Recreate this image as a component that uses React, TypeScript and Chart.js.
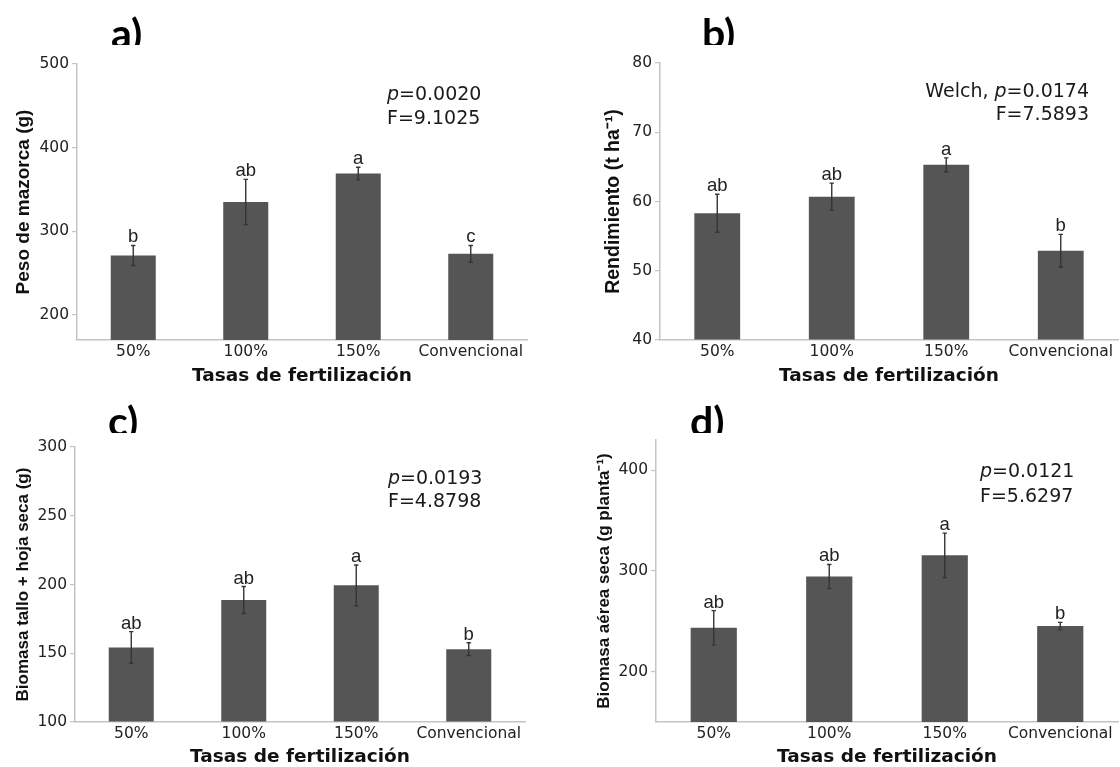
import React, { useEffect, useRef } from 'react';
import { Chart, registerables } from 'chart.js';

Chart.register(...registerables);

// ---------- data ----------
const categories = ['50%', '100%', '150%', 'Convencional'];

const pesoMazorca = [271, 335, 369, 273];
const pesoMazorcaErr = [12, 27, 7.5, 10];
const pesoMazorcaLetters = ['b', 'ab', 'a', 'c'];
const pesoMazorcaTicks = [200, 300, 400, 500];

const rendimiento = [58.3, 60.7, 65.3, 52.9];
const rendimientoErr = [2.75, 1.95, 1.0, 2.35];
const rendimientoLetters = ['ab', 'ab', 'a', 'b'];
const rendimientoTicks = [40, 50, 60, 70, 80];

const biomasaTallo = [154.2, 188.7, 199.4, 153.0];
const biomasaTalloErr = [11.5, 9.8, 14.8, 4.6];
const biomasaTalloLetters = ['ab', 'ab', 'a', 'b'];
const biomasaTalloTicks = [100, 150, 200, 250, 300];

const biomasaAerea = [243.6, 294.4, 315.5, 245.2];
const biomasaAereaErr = [17, 12, 22, 3.7];
const biomasaAereaLetters = ['ab', 'ab', 'a', 'b'];
const biomasaAereaTicks = [200, 300, 400];

const xTitle = 'Tasas de fertilización';

// ---------- styles ----------
const BAR_COLOR = '#555555';
const AXIS_COLOR = '#c4c4c4';
const TEXT_COLOR = '#222222';
const TICK_FONT = { family: '"DejaVu Sans", sans-serif', size: 15.5 };
const STAT_FONT = '19px "DejaVu Sans", sans-serif';
const STAT_FONT_IT = 'italic 19px "DejaVu Sans", sans-serif';

type Seg = [string, boolean];
type PanelCfg = {
  label: string;
  labelLeft: number;
  labelCut: number;
  box: { left: number; top: number; width: number; height: number };
  pad: { left: number; right: number; top: number; bottom: number };
  yWidth: number;
  xHeight: number;
  yMin: number;
  yMax: number;
  ticks: number[];
  values: number[];
  errors: number[];
  letters: string[];
  yTitle: string;
  yTitleSize: number;
  stats: Seg[][];
  statsAlign: 'left' | 'right';
  statsX: number;
  statsY: number[];
};

const panels: PanelCfg[] = [
  {
    label: 'a)', labelLeft: 111, labelCut: 45,
    box: { left: 0, top: 0, width: 540, height: 390 },
    pad: { left: 12.6, right: 13, top: 64, bottom: 4.75 },
    yWidth: 64.4, xHeight: 45.25,
    yMin: 170, yMax: 500, ticks: pesoMazorcaTicks,
    values: pesoMazorca, errors: pesoMazorcaErr, letters: pesoMazorcaLetters,
    yTitle: 'Peso de mazorca (g)', yTitleSize: 19,
    stats: [[['p', true], ['=0.0020', false]], [['F=9.1025', false]]],
    statsAlign: 'left', statsX: 387, statsY: [95, 119],
  },
  {
    label: 'b)', labelLeft: 702, labelCut: 45,
    box: { left: 560, top: 0, width: 560, height: 390 },
    pad: { left: 42.3, right: 2, top: 63, bottom: 4.75 },
    yWidth: 57.7, xHeight: 45.25,
    yMin: 40, yMax: 80, ticks: rendimientoTicks,
    values: rendimiento, errors: rendimientoErr, letters: rendimientoLetters,
    yTitle: 'Rendimiento (t ha\u207B\u00B9)', yTitleSize: 19.5,
    stats: [[['Welch, ', false], ['p', true], ['=0.0174', false]], [['F=7.5893', false]]],
    statsAlign: 'right', statsX: 529, statsY: [92, 115],
  },
  {
    label: 'c)', labelLeft: 108, labelCut: 433,
    box: { left: 0, top: 380, width: 540, height: 387 },
    pad: { left: 12.8, right: 15, top: 67, bottom: 0.75 },
    yWidth: 62.2, xHeight: 44.25,
    yMin: 100, yMax: 300, ticks: biomasaTalloTicks,
    values: biomasaTallo, errors: biomasaTalloErr, letters: biomasaTalloLetters,
    yTitle: 'Biomasa tallo + hoja seca (g)', yTitleSize: 17,
    stats: [[['p', true], ['=0.0193', false]], [['F=4.8798', false]]],
    statsAlign: 'left', statsX: 388, statsY: [99, 122],
  },
  {
    label: 'd)', labelLeft: 690, labelCut: 433,
    box: { left: 560, top: 380, width: 560, height: 387 },
    pad: { left: 33.8, right: 2, top: 60, bottom: 0.75 },
    yWidth: 62.2, xHeight: 44.25,
    yMin: 150, yMax: 430, ticks: biomasaAereaTicks,
    values: biomasaAerea, errors: biomasaAereaErr, letters: biomasaAereaLetters,
    yTitle: 'Biomasa aérea seca (g planta\u207B\u00B9)', yTitleSize: 17,
    stats: [[['p', true], ['=0.0121', false]], [['F=5.6297', false]]],
    statsAlign: 'left', statsX: 420, statsY: [92, 117],
  },
];

function Panel({ cfg }: { cfg: PanelCfg }) {
  const ref = useRef<HTMLCanvasElement | null>(null);

  useEffect(() => {
    if (!ref.current) return;
    const overlay = {
      id: 'overlay',
      afterDatasetsDraw(chart: any) {
        const ctx = chart.ctx;
        const y = chart.scales.y;
        const meta = chart.getDatasetMeta(0);
        ctx.save();
        meta.data.forEach((bar: any, i: number) => {
          const x = bar.x;
          const top = y.getPixelForValue(cfg.values[i] + cfg.errors[i]);
          const bot = y.getPixelForValue(cfg.values[i] - cfg.errors[i]);
          ctx.strokeStyle = '#353535';
          ctx.lineWidth = 1.4;
          ctx.beginPath();
          ctx.moveTo(x, top);
          ctx.lineTo(x, bot);
          ctx.moveTo(x - 2.2, top);
          ctx.lineTo(x + 2.2, top);
          ctx.moveTo(x - 2.2, bot);
          ctx.lineTo(x + 2.2, bot);
          ctx.stroke();
          ctx.fillStyle = TEXT_COLOR;
          ctx.font = '18.5px "Liberation Sans", Arial, sans-serif';
          ctx.textAlign = 'center';
          ctx.textBaseline = 'alphabetic';
          ctx.fillText(cfg.letters[i], x, top - 3);
        });
        // statistics text
        ctx.fillStyle = '#1a1a1a';
        ctx.textBaseline = 'middle';
        ctx.textAlign = 'left';
        cfg.stats.forEach((line, li) => {
          const widths = line.map(([t, it]) => {
            ctx.font = it ? STAT_FONT_IT : STAT_FONT;
            return ctx.measureText(t).width;
          });
          const total = widths.reduce((a, b) => a + b, 0);
          let x = cfg.statsAlign === 'right' ? cfg.statsX - total : cfg.statsX;
          line.forEach(([t, it], si) => {
            ctx.font = it ? STAT_FONT_IT : STAT_FONT;
            ctx.fillText(t, x, cfg.statsY[li]);
            x += widths[si];
          });
        });
        ctx.restore();
      },
    };

    const chart = new Chart(ref.current, {
      type: 'bar',
      data: {
        labels: categories,
        datasets: [
          {
            data: cfg.values,
            backgroundColor: BAR_COLOR,
            borderWidth: 0,
            base: cfg.yMin,
            barPercentage: 0.4,
            categoryPercentage: 1,
          } as any,
        ],
      },
      options: {
        responsive: false,
        animation: false,
        events: [],
        layout: { padding: cfg.pad },
        plugins: { legend: { display: false }, tooltip: { enabled: false } },
        scales: {
          x: {
            grid: { display: false, drawTicks: false },
            border: { display: true, color: AXIS_COLOR, width: 1.5 },
            ticks: { padding: 3, color: TEXT_COLOR, font: TICK_FONT, maxRotation: 0, autoSkip: false },
            title: {
              display: true,
              text: xTitle,
              color: '#111111',
              padding: 0,
              font: { family: '"DejaVu Sans", sans-serif', size: 18.5, weight: 'bold', lineHeight: 1 },
            },
            afterFit: (s: any) => { s.height = cfg.xHeight; },
          },
          y: {
            min: cfg.yMin,
            max: cfg.yMax,
            grid: { display: true, drawOnChartArea: false, drawTicks: true, tickLength: 5, color: AXIS_COLOR, lineWidth: 1.2 },
            border: { display: true, color: AXIS_COLOR, width: 1.5 },
            ticks: { padding: 3, color: TEXT_COLOR, font: TICK_FONT },
            afterBuildTicks: (s: any) => { s.ticks = cfg.ticks.map((v) => ({ value: v })); },
            title: {
              display: true,
              text: cfg.yTitle,
              color: '#111111',
              padding: 0,
              font: { family: '"Liberation Sans", Arial, sans-serif', size: cfg.yTitleSize, weight: 'bold' },
            },
            afterFit: (s: any) => { s.width = cfg.yWidth; },
          },
        },
      } as any,
      plugins: [overlay],
    });
    return () => chart.destroy();
  }, [cfg]);

  return (
    <>
      <canvas
        ref={ref}
        width={cfg.box.width}
        height={cfg.box.height}
        style={{ position: 'absolute', left: cfg.box.left, top: cfg.box.top, width: cfg.box.width, height: cfg.box.height }}
      />
      <div
        style={{
          position: 'absolute',
          left: cfg.labelLeft,
          top: cfg.labelCut - 45,
          width: 70,
          height: 45,
          overflow: 'hidden',
        }}
      >
        <div
          style={{
            position: 'absolute',
            left: 0,
            top: 11.5,
            fontFamily: 'Lato, "Open Sans", sans-serif',
            fontWeight: 700,
            fontSize: 41,
            lineHeight: '41px',
            color: '#000',
            whiteSpace: 'nowrap',
          }}
        >
          {cfg.label}
        </div>
      </div>
    </>
  );
}

export default function App() {
  return (
    <div
      style={{
        position: 'absolute',
        left: 0,
        top: 0,
        width: 1120,
        height: 767,
        overflow: 'hidden',
        background: '#ffffff',
      }}
    >
      {panels.map((p) => (
        <Panel key={p.label} cfg={p} />
      ))}
    </div>
  );
}
